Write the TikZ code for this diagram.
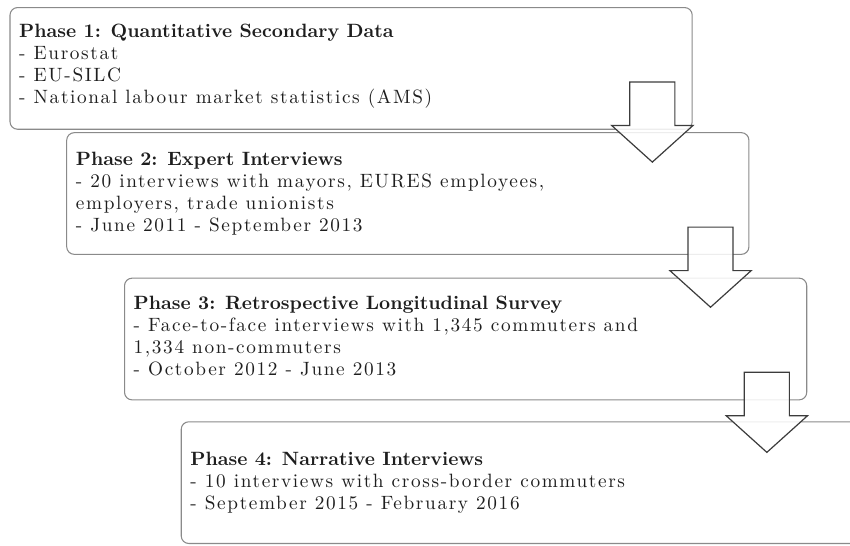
\documentclass[tikz,border=0pt]{standalone}
\usepackage{fontspec}
\setmainfont{lmroman10}[Extension=.otf, UprightFont=*-regular, BoldFont=*-bold, ItalicFont=*-italic, BoldItalicFont=*-bolditalic]
\usepackage{tikz}
\usetikzlibrary{positioning,shapes.arrows}
\definecolor{boxgray}{HTML}{8A8A8A}
\definecolor{arrowgray}{HTML}{3C3C3C}
\definecolor{textgray}{HTML}{1E1E1E}
\newcommand{\phasetitle}[1]{{\bfseries\addfontfeatures{LetterSpace=0}#1}}
\tikzset{
  phasebox/.style={draw=boxgray, line width=0.8pt, rounded corners=0.2cm, fill=white, minimum width=18.05cm, minimum height=3.22cm, inner sep=0pt},
  phasetext/.style={align=left, inner sep=0pt, text=textgray, font=\fontsize{14.5}{16.5}\selectfont\addfontfeatures{LetterSpace=8.5}},
  blockarrow/.style={single arrow, draw=arrowgray, line width=0.9pt, fill=white, fill opacity=0.85, inner sep=0.58cm,
    minimum height=2.12cm, minimum width=2.12cm, single arrow head extend=0.48cm, single arrow tip angle=96,
    shape border rotate=270, anchor=tip}
}

\begin{document}
\begin{tikzpicture}
  \useasboundingbox (0,0) rectangle (22.49,14.42);
  \clip (0,0) rectangle (22.49,14.42);
  % the four phases
  \node[phasebox] (p1) at (9.29,12.61) {};
  \node[phasebox] (p2) at (10.79,9.30) {};
  \node[phasebox] (p3) at (12.32,5.45) {};
  \node[phasebox] (p4) at (13.82,1.65) {};
  \node[phasetext, below right=0.44cm and 0.25cm of p1.north west] (t1)
    {\phasetitle{Phase 1: Quantitative Secondary Data}\\- Eurostat\\- EU-SILC\\- National labour market statistics (AMS)};
  \node[phasetext, below right=0.53cm and 0.25cm of p2.north west] (t2)
    {\phasetitle{Phase 2: Expert Interviews}\\- 20 interviews with mayors, EURES employees,\\employers, trade unionists\\- June 2011 - September 2013};
  \node[phasetext, below right=0.48cm and 0.25cm of p3.north west] (t3)
    {\phasetitle{Phase 3: Retrospective Longitudinal Survey}\\- Face-to-face interviews with 1,345 commuters and\\1,334 non-commuters\\- October 2012 - June 2013};
  \node[phasetext, below right=0.82cm and 0.25cm of p4.north west] (t4)
    {\phasetitle{Phase 4: Narrative Interviews}\\- 10 interviews with cross-border commuters\\- September 2015 - February 2016};
  % block arrows between the phases
  \node[blockarrow] (a12) at (17.26,10.11) {};
  \node[blockarrow] (a23) at (18.80,6.27) {};
  \node[blockarrow] (a34) at (20.29,2.43) {};
\end{tikzpicture}
\end{document}
